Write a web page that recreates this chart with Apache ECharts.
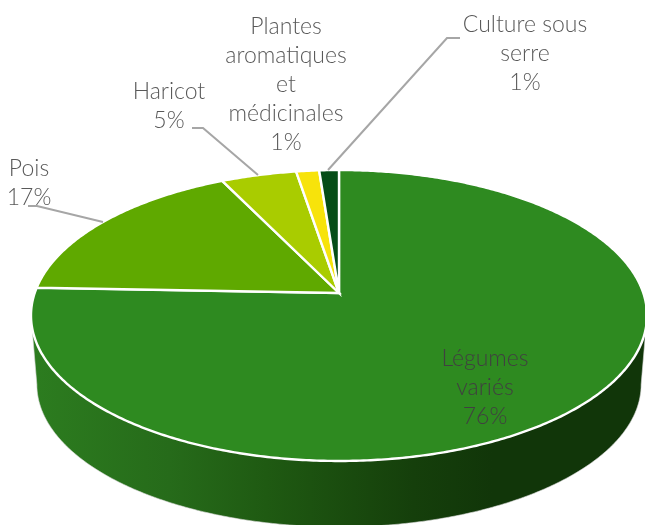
<!DOCTYPE html>
<html><head><meta charset="utf-8">
<style>html,body{margin:0;padding:0;background:#fff;overflow:hidden}#c{width:645px;height:525px}</style>
<script src="https://cdn.jsdelivr.net/npm/echarts@6/dist/echarts.min.js"></script>
</head><body><div id="c"></div>
<script>
const categories = ['Légumes\nvariés', 'Pois', 'Haricot', 'Plantes\naromatiques\net\nmédicinales', 'Culture sous\nserre'];
const values = [75.6, 17.2, 4.6, 1.4, 1.2];
const colors = ['#2e8a20', '#5fa900', '#a9cc00', '#f7e30b', '#054d17'];
// layout, kept apart from the data
const labelPos = [[485, 388], [29, 183.5], [169, 106.5], [286, 85], [525, 54]];
const labelColors = ['#404040', '#595959', '#595959', '#595959', '#595959'];
const leaders = [null,
  [[28, 206], [37, 206], [103, 222]],
  [[192, 128], [203, 128], [258, 175]],
  null,
  [[328, 170], [447, 38], [460, 38]]];

const total = values.reduce((a, b) => a + b, 0);
const TOP = {cx: 339, ay: 293, A: 304.3, B: 142, k: 0.1546};
const BOT = {cx: 339, ay: 362.5, A: 298.5, B: 139, k: 0.1546};
const FRONT_START = Math.acos(-TOP.k), FRONT_END = 2 * Math.PI - FRONT_START;
function proj(p, th) {
  const u = Math.sin(th), v = -Math.cos(th), d = 1 - p.k * v;
  return [p.cx + p.A * u / d, p.ay + p.B * v / d];
}
function arc(p, a0, a1) {
  const n = Math.max(2, Math.ceil(Math.abs(a1 - a0) / 0.01)), out = [];
  for (let i = 0; i <= n; i++) out.push(proj(p, a0 + (a1 - a0) * i / n));
  return out;
}
const sideFill = new echarts.graphic.LinearGradient(35, 0, 645, 0, [
  {offset: 0, color: '#2c7c1f'},
  {offset: 0.22, color: '#266b1a'},
  {offset: 0.38, color: '#1f5a12'},
  {offset: 0.62, color: '#153f0b'},
  {offset: 0.75, color: '#113609'},
  {offset: 1, color: '#113609'}
], true);

const option = {
  animation: false,
  backgroundColor: '#ffffff',
  series: [{
    type: 'custom',
    coordinateSystem: 'none',
    clip: false,
    data: values.map((v, i) => ({value: v, name: categories[i]})),
    renderItem(params, api) {
      const i = params.dataIndex;
      let start = 0;
      for (let j = 0; j < i; j++) start += values[j];
      const a0 = start / total * 2 * Math.PI;
      const a1 = (start + values[i]) / total * 2 * Math.PI;
      const topArc = arc(TOP, a0, a1);
      const children = [
        {type: 'polygon', z2: 10 + (i === 0 ? 0 : 1), shape: {points: [[TOP.cx, TOP.ay]].concat(topArc)},
         style: {fill: colors[i], stroke: '#ffffff', lineWidth: 2.4, lineJoin: 'miter'}},
        {type: 'text', z2: 30, x: labelPos[i][0], y: labelPos[i][1],
         style: {
           text: categories[i] + '\n' + Math.round(values[i] / total * 100) + '%',
           fill: labelColors[i], align: 'center', verticalAlign: 'middle',
           font: '300 23px Lato', lineHeight: 29
         }}
      ];
      const s0 = Math.max(a0, FRONT_START), s1 = Math.min(a1, FRONT_END);
      if (s1 > s0) children.push({type: 'polygon', z2: 1,
        shape: {points: arc(TOP, s0, s1).concat(arc(BOT, s0, s1).reverse())},
        style: {fill: sideFill, stroke: '#d9d9d9', lineWidth: 0.6}});
      if (leaders[i]) children.push({type: 'polyline', z2: 20, shape: {points: leaders[i]},
        style: {fill: 'none', stroke: '#a6a6a6', lineWidth: 2}});
      return {type: 'group', children};
    }
  }]
};
echarts.init(document.getElementById('c')).setOption(option);
</script></body></html>
